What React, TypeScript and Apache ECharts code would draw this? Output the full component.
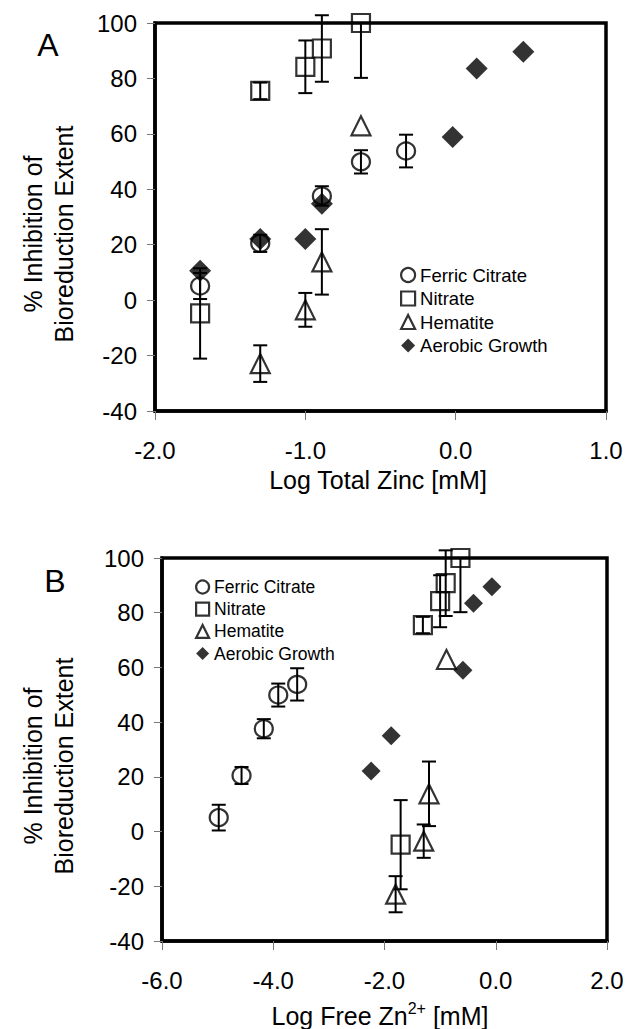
import { useEffect, useRef } from "react";
import * as echarts from "echarts";

// ---- data ----
// Shared % inhibition values (same experiments, plotted vs total Zn in A and vs free Zn2+ in B)
const ferricY = [5.1, 20.5, 37.6, 49.9, 53.8];
const ferricErr = [4.7, 3.1, 3.5, 4.2, 5.9];
const ferricXA = [-1.7, -1.3, -0.89, -0.63, -0.33];
const ferricXB = [-4.98, -4.57, -4.17, -3.91, -3.57];

const nitrateY = [-4.8, 75.5, 84.2, 90.8, 100];
const nitrateErrMinus = [16.3, 3.0, 9.5, 12.0, 19.8];
const nitrateErrPlus = [16.3, 3.0, 9.5, 12.0, 0];
const nitrateXA = [-1.7, -1.3, -1.0, -0.89, -0.63];
const nitrateXB = [-1.71, -1.31, -1.0, -0.9, -0.635];

const hematiteY = [-22.9, -3.5, 13.8, 62.9];
const hematiteErr = [6.6, 6.1, 11.8, 0];
const hematiteXA = [-1.3, -1.0, -0.89, -0.63];
const hematiteXB = [-1.8, -1.295, -1.2, -0.886];

const aerobicXA = [-1.7, -1.3, -1.0, -0.89, -0.02, 0.14, 0.45];
const aerobicYA = [10.6, 22.1, 22.1, 34.8, 58.9, 83.6, 89.6];
const aerobicXB = [-2.24, -1.88, -0.59, -0.4, -0.07];
const aerobicYB = [22.1, 35.0, 59.0, 83.5, 89.5];

const seriesNames = ["Ferric Citrate", "Nitrate", "Hematite", "Aerobic Growth"];
const yRange = { min: -40, max: 100, step: 20 };
const xRangeA = { min: -2, max: 1, step: 1 };
const xRangeB = { min: -6, max: 2, step: 2 };
const panelLabels = ["A", "B"];
const xTitleA = "Log Total Zinc [mM]";
const yTitle = "% Inhibition of\nBioreduction Extent";

const FONT = "'Liberation Sans', Arial, Helvetica, sans-serif";

const pts = (xs: number[], ys: number[]) => xs.map((x, i) => [x, ys[i]]);
const errPts = (xs: number[], ys: number[], lo: number[], hi: number[]) =>
  xs.map((x, i) => [x, ys[i], lo[i], hi[i]]);

const errRender = (capHalf: number) => (params: any, api: any) => {
  const x = api.value(0);
  const y = api.value(1);
  const lo = api.value(2);
  const hi = api.value(3);
  const style = { stroke: "#000", lineWidth: 2, fill: "none" };
  const children: any[] = [];
  if (lo + hi <= 0) return { type: "group", children };
  const top = api.coord([x, y + hi]);
  const bot = api.coord([x, y - lo]);
  children.push({ type: "line", shape: { x1: top[0], y1: top[1], x2: bot[0], y2: bot[1] }, style });
  if (hi > 0)
    children.push({ type: "line", shape: { x1: top[0] - capHalf, y1: top[1], x2: top[0] + capHalf, y2: top[1] }, style });
  if (lo > 0)
    children.push({ type: "line", shape: { x1: bot[0] - capHalf, y1: bot[1], x2: bot[0] + capHalf, y2: bot[1] }, style });
  return { type: "group", children };
};

const openStyle = { color: "transparent", borderColor: "#000", borderWidth: 2.2 };
const filledStyle = { color: "#000", borderColor: "#000", borderWidth: 0 };

function panelSeries(idx: number, d: any) {
  const common = { xAxisIndex: idx, yAxisIndex: idx, clip: false, z: 3 };
  const diamond = idx === 0 ? 22 : 19;
  return [
    { ...common, type: "scatter", name: seriesNames[0], symbol: "circle", symbolSize: [18, 17], itemStyle: openStyle, data: pts(d.fx, ferricY) },
    { ...common, type: "scatter", name: seriesNames[1], symbol: "rect", symbolSize: 18, itemStyle: openStyle, data: pts(d.nx, nitrateY) },
    { ...common, type: "scatter", name: seriesNames[2], symbol: "triangle", symbolSize: 19, itemStyle: openStyle, data: pts(d.hx, hematiteY) },
    { ...common, type: "custom", name: "err-f-" + idx, renderItem: errRender(7), encode: { x: 0, y: 1 }, z: 4, data: errPts(d.fx, ferricY, ferricErr, ferricErr) },
    { ...common, type: "custom", name: "err-n-" + idx, renderItem: errRender(7), encode: { x: 0, y: 1 }, z: 4, data: errPts(d.nx, nitrateY, nitrateErrMinus, nitrateErrPlus) },
    { ...common, type: "custom", name: "err-h-" + idx, renderItem: errRender(7), encode: { x: 0, y: 1 }, z: 4, data: errPts(d.hx, hematiteY, hematiteErr, hematiteErr) },
    { ...common, type: "scatter", name: seriesNames[3], symbol: "diamond", symbolSize: diamond, itemStyle: filledStyle, z: 5, data: pts(d.ax, d.ay) },
  ];
}

function legendData(size: number) {
  return [
    { name: seriesNames[0], icon: "circle", itemStyle: { color: "transparent", borderColor: "#000", borderWidth: 2.2 } },
    { name: seriesNames[1], icon: "rect", itemStyle: { color: "transparent", borderColor: "#000", borderWidth: 2.2 } },
    { name: seriesNames[2], icon: "triangle", itemStyle: { color: "transparent", borderColor: "#000", borderWidth: 2.2 } },
    { name: seriesNames[3], icon: "diamond", itemStyle: { color: "#000", borderWidth: 0 } },
  ];
}

function xAxis(idx: number, r: any) {
  return {
    type: "value",
    gridIndex: idx,
    min: r.min,
    max: r.max,
    interval: r.step,
    axisLine: { show: true, onZero: false, lineStyle: { color: "#000", width: 3.5 } },
    axisTick: { show: true, length: 9, lineStyle: { color: "#777", width: 1 } },
    axisLabel: { color: "#000", fontSize: 24, fontFamily: FONT, margin: 27, formatter: (v: number) => v.toFixed(1) },
    splitLine: { show: false },
  };
}

function yAxis(idx: number) {
  return {
    type: "value",
    gridIndex: idx,
    min: yRange.min,
    max: yRange.max,
    interval: yRange.step,
    axisLine: { show: true, onZero: false, lineStyle: { color: "#000", width: 3.5 } },
    axisTick: { show: true, length: 8, lineStyle: { color: "#777", width: 1 } },
    axisLabel: { color: "#000", fontSize: 24, fontFamily: FONT, margin: 18 },
    splitLine: { show: false },
  };
}

export default function App() {
  const ref = useRef<HTMLDivElement>(null);
  useEffect(() => {
    document.body.style.margin = "0";
    const chart = echarts.init(ref.current!, null, { renderer: "svg" });
    const option: any = {
      animation: false,
      backgroundColor: "#fff",
      textStyle: { fontFamily: FONT },
      grid: [
        { left: 155, top: 23, width: 451, height: 388, show: true, borderColor: "#000", borderWidth: 3.5, backgroundColor: "#fff" },
        { left: 162, top: 558, width: 445, height: 383, show: true, borderColor: "#000", borderWidth: 3.5, backgroundColor: "#fff" },
      ],
      xAxis: [xAxis(0, xRangeA), xAxis(1, xRangeB)],
      yAxis: [yAxis(0), yAxis(1)],
      legend: [
        {
          orient: "vertical",
          left: 395,
          top: 260,
          itemWidth: 14,
          itemHeight: 14,
          itemGap: 3.5,
          selectedMode: false,
          textStyle: { color: "#000", fontSize: 18.5, fontFamily: FONT, lineHeight: 20 },
          data: legendData(14),
        },
        {
          orient: "vertical",
          left: 190,
          top: 572,
          itemWidth: 13,
          itemHeight: 13,
          itemGap: 2.2,
          selectedMode: false,
          textStyle: { color: "#000", fontSize: 17.5, fontFamily: FONT, lineHeight: 20 },
          data: legendData(13),
        },
      ],
      series: [
        ...panelSeries(0, { fx: ferricXA, nx: nitrateXA, hx: hematiteXA, ax: aerobicXA, ay: aerobicYA }),
        ...panelSeries(1, { fx: ferricXB, nx: nitrateXB, hx: hematiteXB, ax: aerobicXB, ay: aerobicYB }),
      ],
      graphic: [
        { type: "text", x: 48, y: 45, style: { text: panelLabels[0], fontSize: 32, fontFamily: FONT, fill: "#000", align: "center", verticalAlign: "middle" } },
        { type: "text", x: 55, y: 581, style: { text: panelLabels[1], fontSize: 32, fontFamily: FONT, fill: "#000", align: "center", verticalAlign: "middle" } },
        { type: "text", x: 48, y: 234, rotation: Math.PI / 2, style: { text: yTitle, fontSize: 25, lineHeight: 31, fontFamily: FONT, fill: "#000", align: "center", verticalAlign: "middle" } },
        { type: "text", x: 48, y: 766, rotation: Math.PI / 2, style: { text: yTitle, fontSize: 25, lineHeight: 31, fontFamily: FONT, fill: "#000", align: "center", verticalAlign: "middle" } },
        { type: "text", x: 378, y: 480, style: { text: xTitleA, fontSize: 25, fontFamily: FONT, fill: "#000", align: "center", verticalAlign: "middle" } },
        {
          type: "text",
          x: 380,
          y: 1014,
          style: {
            text: "{n|Log Free Zn}{s|2+}{n| [mM]}",
            fontFamily: FONT,
            fill: "#000",
            align: "center",
            verticalAlign: "middle",
            rich: {
              n: { fontSize: 25, fontFamily: FONT, fill: "#000", lineHeight: 28, verticalAlign: "bottom" },
              s: { fontSize: 16, fontFamily: FONT, fill: "#000", lineHeight: 28, verticalAlign: "top", padding: [0, 0, 10, 0] },
            },
          },
        },
      ],
    };
    chart.setOption(option);
    return () => chart.dispose();
  }, []);
  return <div ref={ref} style={{ width: 629, height: 1029 }} />;
}
